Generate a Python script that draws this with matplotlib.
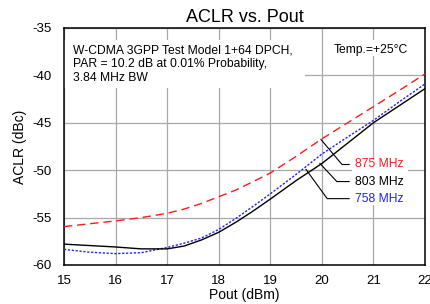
import numpy as np
import matplotlib
matplotlib.use("Agg")
import matplotlib.pyplot as plt
from matplotlib.patches import Rectangle

plt.rcParams['font.family'] = ['Liberation Sans', 'DejaVu Sans']
plt.rcParams['axes.unicode_minus'] = False

# data
pout = [15, 15.5, 16, 16.5, 17, 17.33, 17.67, 18, 18.33, 18.67, 19, 19.5, 20, 20.5, 21, 21.5, 22]
aclr_875 = [-55.95, -55.65, -55.35, -55.0, -54.55, -54.1, -53.5, -52.8, -52.1, -51.2, -50.3,
            -48.55, -46.7, -45.0, -43.3, -41.6, -39.85]
aclr_803 = [-57.8, -57.95, -58.1, -58.3, -58.3, -58.0, -57.35, -56.55, -55.5, -54.3, -53.05,
            -51.1, -49.3, -47.15, -45.0, -43.2, -41.4]
aclr_758 = [-58.35, -58.65, -58.8, -58.7, -58.15, -57.7, -57.15, -56.25, -55.1, -53.8, -52.5,
            -50.45, -48.3, -46.5, -44.75, -42.8, -40.9]

xticks = [15, 16, 17, 18, 19, 20, 21, 22]
yticks = [-60, -55, -50, -45, -40, -35]

fig = plt.figure(figsize=(4.31, 3.04), dpi=100)
ax = fig.add_axes([0.1485, 0.1283, 0.8375, 0.7797])

ax.plot(pout, aclr_875, color='#ff1a1a', lw=1.0, dashes=(6, 3.5), zorder=3)
ax.plot(pout, aclr_758, color='#2020ff', lw=1.0, dashes=(1.6, 1.2), zorder=3)
ax.plot(pout, aclr_803, color='black', lw=1.0, zorder=3)

ax.set_xlim(15, 22)
ax.set_ylim(-60, -35)
ax.set_xticks(xticks)
ax.set_yticks(yticks)
ax.grid(True, color='#a8a8a8', lw=0.9)
ax.set_axisbelow(True)
ax.tick_params(length=0, labelsize=9.5)
ax.tick_params(axis='y', pad=9)
ax.tick_params(axis='x', pad=7)
for s in ax.spines.values():
    s.set_linewidth(1.1)

ax.set_xlabel("Pout (dBm)", fontsize=10, labelpad=1)
ax.set_ylabel("ACLR (dBc)", fontsize=10, labelpad=4)
ax.set_title("ACLR vs. Pout", fontsize=13, pad=4)

# white backgrounds behind the text blocks (hide the grid)
for x0, y0, w, h in [(0.0, 0.747, 0.668, 0.203), (0.745, 0.882, 0.21, 0.068),
                     (0.798, 0.253, 0.155, 0.19)]:
    ax.add_patch(Rectangle((x0, y0), w, h, transform=ax.transAxes,
                           fc='white', ec='none', zorder=1))

ax.text(0.025, 0.932, "W-CDMA 3GPP Test Model 1+64 DPCH,\nPAR = 10.2 dB at 0.01% Probability,\n3.84 MHz BW",
        transform=ax.transAxes, fontsize=8.7, va='top', ha='left', linespacing=1.2, zorder=2)
ax.text(0.953, 0.932, "Temp.=+25\u00b0C", transform=ax.transAxes, fontsize=8.7,
        va='top', ha='right', zorder=2)

# leader labels
labels = [("875 MHz", '#ff1a1a', (19.98, -46.74), -49.4, 130),
          ("803 MHz", 'black', (19.96, -49.27), -51.2, 133),
          ("758 MHz", '#2020ff', (19.69, -49.9), -53.0, 126)]
for txt, col, pt, ty, ang in labels:
    ax.annotate(txt, xy=pt, xytext=(20.64, ty), fontsize=8.7, color=col,
                va='center', ha='left', zorder=4,
                arrowprops=dict(arrowstyle='-', color='black', lw=0.8,
                                shrinkA=2, shrinkB=0,
                                connectionstyle="angle,angleA=0,angleB=%d,rad=0" % ang))

fig.savefig("out.png", dpi=100)
